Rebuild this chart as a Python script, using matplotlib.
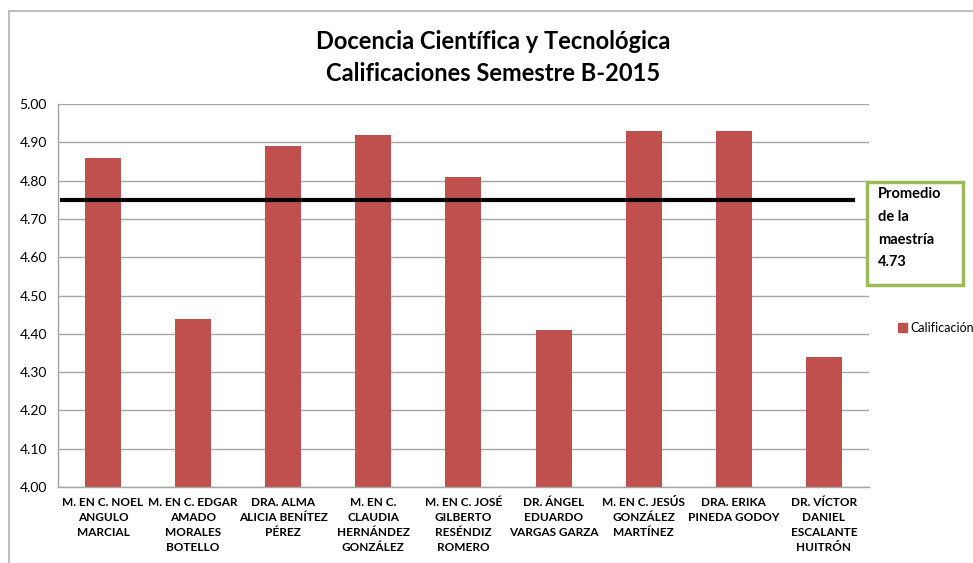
import matplotlib.pyplot as plt
from matplotlib.patches import Rectangle, Patch

plt.rcParams['font.family'] = ['Lato', 'DejaVu Sans']

teachers = [
    "M. EN C. NOEL\nANGULO\nMARCIAL",
    "M. EN C. EDGAR\nAMADO\nMORALES\nBOTELLO",
    "DRA. ALMA\nALICIA BENÍTEZ\nPÉREZ",
    "M. EN C.\nCLAUDIA\nHERNÁNDEZ\nGONZÁLEZ",
    "M. EN C. JOSÉ\nGILBERTO\nRESÉNDIZ\nROMERO",
    "DR. ÁNGEL\nEDUARDO\nVARGAS GARZA",
    "M. EN C. JESÚS\nGONZÁLEZ\nMARTÍNEZ",
    "DRA. ERIKA\nPINEDA GODOY",
    "DR. VÍCTOR\nDANIEL\nESCALANTE\nHUITRÓN",
]
scores = [4.86, 4.44, 4.89, 4.92, 4.81, 4.41, 4.93, 4.93, 4.34]
average_line = 4.75
average_label = "Promedio\nde la\nmaestría\n4.73"
y_ticks = [4.00, 4.10, 4.20, 4.30, 4.40, 4.50, 4.60, 4.70, 4.80, 4.90, 5.00]

bar_color = '#C0504D'
grid_color = '#A6A6A6'

fig = plt.figure(figsize=(9.73, 5.63), dpi=100)
ax = fig.add_axes([0.0596, 0.135, 0.8334, 0.68])

x = list(range(len(teachers)))
ax.bar(x, scores, width=0.4, color=bar_color, zorder=2)
ax.set_xlim(-0.5, len(teachers) - 0.5)
ax.set_ylim(4.0, 5.0)
ax.set_yticks(y_ticks)
ax.set_yticklabels([f"{v:.2f}" for v in y_ticks], fontsize=10)
ax.set_xticks(x)
ax.set_xticklabels(teachers, fontsize=8.5, fontweight='bold', linespacing=1.45)
ax.tick_params(axis='both', length=0, pad=8)
ax.tick_params(axis='x', pad=7)

ax.grid(axis='y', color=grid_color, linewidth=1, zorder=0)
for side in ['top', 'right']:
    ax.spines[side].set_visible(False)
for side in ['left', 'bottom']:
    ax.spines[side].set_color(grid_color)
    ax.spines[side].set_linewidth(1)

# average line
ax.axhline(average_line, xmin=0.005, xmax=0.98, color='black', linewidth=3, zorder=3)

# title
fig.text(0.507, 0.927, "Docencia Científica y Tecnológica", ha='center', va='center',
         fontsize=17, fontweight='bold')
fig.text(0.507, 0.870, "Calificaciones Semestre B-2015", ha='center', va='center',
         fontsize=17, fontweight='bold')

# green annotation box
fig.patches.append(Rectangle((867 / 973, 1 - 285 / 563), 96 / 973, 103 / 563,
                             transform=fig.transFigure, fill=False,
                             edgecolor='#9BBB59', linewidth=2.5))
fig.text(878 / 973, 1 - 187 / 563, average_label, ha='left', va='top',
         fontsize=10.5, fontweight='bold', linespacing=1.8)

# outer chart frame
fig.patches.append(Rectangle((9 / 973, -0.1), 1.2, 1 - 11 / 563 + 0.1,
                             transform=fig.transFigure, fill=False,
                             edgecolor='#BFBFBF', linewidth=1.5))

# legend
fig.legend(handles=[Patch(color=bar_color, label='Calificación')],
           loc='center left', bbox_to_anchor=(892 / 973, 1 - 328 / 563),
           frameon=False, fontsize=9, handlelength=0.7, handleheight=0.7,
           handletextpad=0.3, borderpad=0)

fig.savefig('out.png', dpi=100)
